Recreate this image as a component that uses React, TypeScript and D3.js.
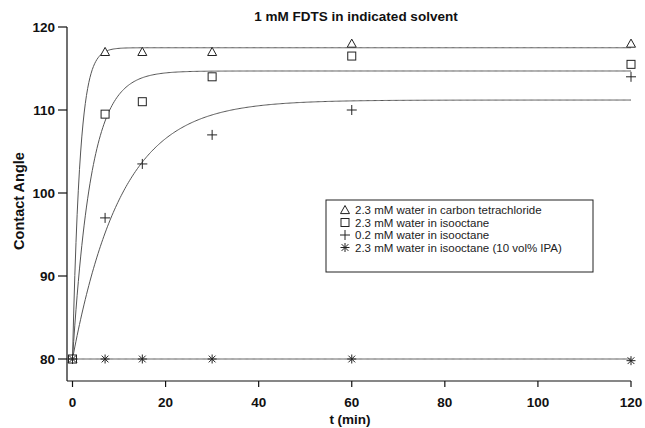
import React from "react";
import * as d3 from "d3";

const times = [0, 7, 15, 30, 60, 120];
const ccl4 = [80, 117, 117, 117, 118, 118];
const isoHigh = [80, 109.5, 111, 114, 116.5, 115.5];
const isoLow = [80, 97, 103.5, 107, 110, 114];
const isoIPA = [80, 80, 80, 80, 80, 79.8];

const seriesNames = [
  "2.3 mM water in carbon tetrachloride",
  "2.3 mM water in isooctane",
  "0.2 mM water in isooctane",
  "2.3 mM water in isooctane (10 vol% IPA)",
];
const seriesSymbols = ["triangle", "square", "plus", "asterisk"];
// exponential fit parameters: y = base + amp * (1 - exp(-t / tau))
const fitBase = [80, 80, 80, 80];
const fitAmp = [37.5, 34.7, 31.2, 0];
const fitTau = [1.6, 4, 10.5, 1];

const xTicks = [0, 20, 40, 60, 80, 100, 120];
const yTicks = [80, 90, 100, 110, 120];

const W = 645;
const H = 428;

function Marker({ kind, x, y }: { kind: string; x: number; y: number }) {
  const c = "#222";
  const sw = 1;
  if (kind === "triangle") {
    const s = 4.5;
    return (
      <path
        d={`M${x},${y - s} L${x + s},${y + s * 0.8} L${x - s},${y + s * 0.8} Z`}
        fill="white"
        stroke={c}
        strokeWidth={sw}
      />
    );
  }
  if (kind === "square") {
    const s = 4;
    return <rect x={x - s} y={y - s} width={2 * s} height={2 * s} fill="white" stroke={c} strokeWidth={sw} />;
  }
  if (kind === "plus") {
    const s = 5;
    return (
      <path d={`M${x - s},${y} L${x + s},${y} M${x},${y - s} L${x},${y + s}`} stroke={c} strokeWidth={sw} fill="none" />
    );
  }
  const s = 4.5;
  const d = s * 0.75;
  return (
    <path
      d={`M${x - s},${y} L${x + s},${y} M${x},${y - s} L${x},${y + s} M${x - d},${y - d} L${x + d},${y + d} M${x - d},${y + d} L${x + d},${y - d}`}
      stroke={c}
      strokeWidth={sw}
      fill="none"
    />
  );
}

export default function App() {
  const x = d3.scaleLinear().domain([0, 120]).range([72.5, 631]);
  const y = d3.scaleLinear().domain([80, 120]).range([359, 27]);
  const axisLeft = 67;
  const axisBottom = 381;
  const series = [ccl4, isoHigh, isoLow, isoIPA];

  const samples = d3.range(0, 120.01, 0.25);
  const line = d3
    .line<number[]>()
    .x((d) => x(d[0]))
    .y((d) => y(d[1]))
    .curve(d3.curveLinear);

  const font = "Arial, 'Liberation Sans', Helvetica, sans-serif";

  return (
    <svg width={W} height={H} style={{ position: "absolute", left: 0, top: 0, background: "white" }} fontFamily={font}>
      <rect width={W} height={H} fill="white" />
      <text x={356} y={21} textAnchor="middle" fontSize={13.5} fontWeight="bold" fill="#111">
        1 mM FDTS in indicated solvent
      </text>

      {/* axes */}
      <line x1={axisLeft} x2={axisLeft} y1={y(120)} y2={axisBottom} stroke="#111" strokeWidth={1.2} />
      <line x1={axisLeft} x2={x(120)} y1={axisBottom} y2={axisBottom} stroke="#111" strokeWidth={1.2} />
      {yTicks.map((t) => (
        <g key={"y" + t}>
          <line x1={axisLeft - 9} x2={axisLeft} y1={y(t)} y2={y(t)} stroke="#111" strokeWidth={1.2} />
          <text x={axisLeft - 12} y={y(t)} dy="0.35em" textAnchor="end" fontSize={13.5} fontWeight="bold" fill="#111">
            {t}
          </text>
        </g>
      ))}
      {xTicks.map((t) => (
        <g key={"x" + t}>
          <line x1={x(t)} x2={x(t)} y1={axisBottom} y2={axisBottom + 6} stroke="#111" strokeWidth={1.2} />
          <text x={x(t)} y={407} textAnchor="middle" fontSize={13.5} fontWeight="bold" fill="#111">
            {t}
          </text>
        </g>
      ))}
      <text x={350} y={424} textAnchor="middle" fontSize={13.5} fontWeight="bold" fill="#111">
        t (min)
      </text>
      <text
        transform={`translate(24,${201}) rotate(-90)`}
        textAnchor="middle"
        fontSize={14.5}
        fontWeight="bold"
        fill="#111"
      >
        Contact Angle
      </text>

      {/* fit curves */}
      {series.map((_, i) => (
        <path
          key={"fit" + i}
          d={line(samples.map((t) => [t, fitBase[i] + fitAmp[i] * (1 - Math.exp(-t / fitTau[i]))])) || ""}
          fill="none"
          stroke="#555"
          strokeWidth={1}
        />
      ))}

      {/* markers */}
      {series.map((vals, i) =>
        vals.map((v, j) => <Marker key={`m${i}-${j}`} kind={seriesSymbols[i]} x={x(times[j])} y={y(v)} />)
      )}

      {/* legend */}
      <rect x={326} y={200} width={267} height={72} fill="white" stroke="#222" strokeWidth={1} />
      {seriesNames.map((n, i) => {
        const ly = 210 + i * 12.5;
        return (
          <g key={"lg" + i}>
            <Marker kind={seriesSymbols[i]} x={345} y={ly} />
            <text x={355} y={ly} dy="0.35em" fontSize={11.5} fill="#222">
              {n}
            </text>
          </g>
        );
      })}
    </svg>
  );
}
